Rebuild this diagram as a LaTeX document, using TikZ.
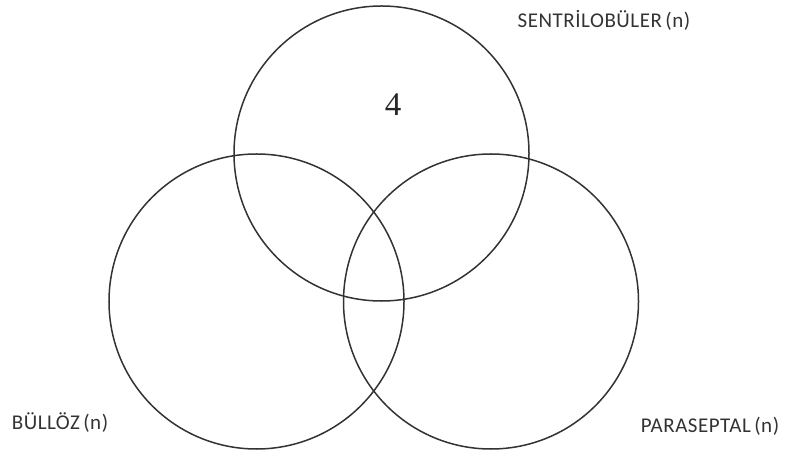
\documentclass[tikz,border=0pt]{standalone}
\usepackage{fontspec}
\setmainfont{Liberation Serif}
\newfontfamily\labelfont[LetterSpace=2.5]{Carlito}
\tikzset{
  venn/.style={draw=black!80,line width=1.5bp},
  setlabel/.style={font=\labelfont\fontsize{21bp}{24bp}\selectfont,text=black!80,inner sep=0pt}
}
\begin{document}
\begin{tikzpicture}[x=1bp,y=-1bp]
  \useasboundingbox (0,0) rectangle (788,453);
  \coordinate (sentri) at (381.5,153.5);
  \coordinate (bulloz) at (256.5,301.5);
  \coordinate (parasep) at (491,301.5);
  \draw[venn] (sentri) circle (147.5bp);
  \draw[venn] (bulloz) circle (147.5bp);
  \draw[venn] (parasep) circle (147.5bp);
  \node[font=\fontsize{33bp}{36bp}\selectfont,text=black!85] (count) at (393,105) {4};
  \node[setlabel] (sentrilbl) at (604,20) {SENTRİLOBÜLER\,(n)};
  \node[setlabel] (bullozlbl) at (60,423) {BÜLLÖZ\,(n)};
  \node[setlabel] (paraseplbl) at (710,426) {PARASEPTAL\,(n)};
\end{tikzpicture}
\end{document}
